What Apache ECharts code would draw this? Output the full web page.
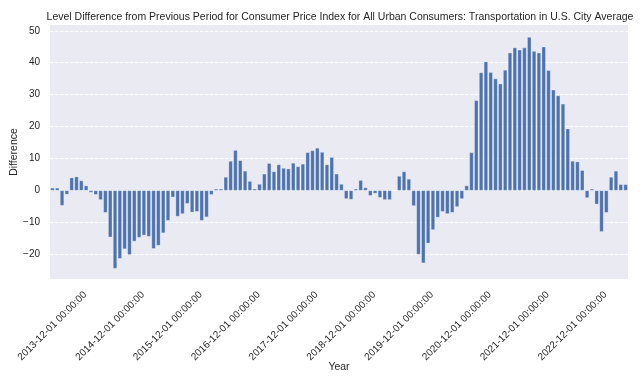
<!DOCTYPE html>
<html>
<head>
<meta charset="utf-8">
<script src="https://cdn.jsdelivr.net/npm/echarts@6/dist/echarts.min.js"></script>
<style>
html,body{margin:0;padding:0;background:#fff;}
#chart{width:640px;height:384px;}
</style>
</head>
<body>
<div id="chart"></div>
<script>
const values = [
  0.8, 0.8, -4.7, -1.2, 4.0, 4.3, 3.1, 1.5, -0.6, -1.3, -2.9, -6.9,
  -14.6, -24.4, -21.3, -18.3, -20.1, -15.9, -14.7, -14.0, -14.4, -18.2, -17.2, -13.3,
  -9.4, -2.1, -8.1, -7.3, -4.1, -6.8, -6.6, -9.4, -8.3, -1.3, 0.5, 0.5,
  4.2, 9.2, 12.6, 9.4, 6.1, 2.9, 0.5, 2.0, 5.2, 8.5, 5.9, 8.1,
  7.0, 6.8, 8.6, 7.5, 8.3, 11.9, 12.5, 13.3, 12.0, 8.1, 10.4, 5.2,
  2.0, -2.6, -2.8, 0.5, 3.2, 0.9, -1.6, -0.9, -2.2, -2.9, -2.9, 0.1,
  4.5, 5.9, 3.6, -4.8, -20.0, -22.7, -16.5, -12.3, -8.4, -6.6, -7.3, -6.9,
  -5.1, -2.6, 1.5, 11.9, 28.2, 36.9, 40.3, 37.0, 35.0, 33.4, 37.7, 43.1,
  44.7, 44.0, 44.7, 48.0, 43.6, 43.1, 45.0, 37.6, 31.5, 29.7, 27.1, 19.3,
  9.2, 9.0, 6.3, -2.3, 0.5, -4.3, -12.9, -6.9, 4.2, 6.1, 1.9, 1.9
];
const startYear = 2013, startMonth = 12;
const categories = [];
for (let i = 0; i < values.length; i++) {
  const t = startMonth - 1 + i;
  const y = startYear + Math.floor(t / 12);
  const m = (t % 12) + 1;
  categories.push(y + '-' + String(m).padStart(2, '0') + '-01 00:00:00');
}
const titleText = 'Level Difference from Previous Period for Consumer Price Index for All Urban Consumers: Transportation in U.S. City Average';
const xName = 'Year';
const yName = 'Difference';

const font = '"Liberation Sans", Arial, sans-serif';
const chart = echarts.init(document.getElementById('chart'), null, {renderer: 'canvas'});
chart.setOption({
  animation: false,
  backgroundColor: '#ffffff',
  title: {
    text: titleText,
    left: 335, top: 7, textAlign: 'center',
    textStyle: {fontFamily: font, fontSize: 10.5, fontWeight: 'normal', color: '#262626'}
  },
  grid: {
    left: 50, right: 12, top: 25, bottom: 105,
    show: true, backgroundColor: '#EAEAF2', borderWidth: 0
  },
  xAxis: {
    type: 'category',
    data: categories,
    name: xName,
    nameLocation: 'middle',
    nameGap: 83,
    nameMoveOverlap: false,
    nameTextStyle: {fontFamily: font, fontSize: 10.5, color: '#262626'},
    axisLine: {show: false},
    axisTick: {show: false},
    splitLine: {show: false},
    axisLabel: {
      interval: 11,
      rotate: 45,
      align: 'center',
      verticalAlign: 'middle',
      margin: 47,
      fontFamily: font, fontSize: 10, color: '#262626'
    }
  },
  yAxis: {
    type: 'value',
    min: -27.7, max: 51.8,
    minInterval: 10, maxInterval: 10,
    name: yName,
    nameLocation: 'middle',
    nameGap: 30,
    nameMoveOverlap: false,
    nameTextStyle: {fontFamily: font, fontSize: 10.5, color: '#262626'},
    axisLine: {show: false},
    axisTick: {show: false},
    axisLabel: {
      showMinLabel: false, showMaxLabel: false,
      margin: 10,
      fontFamily: font, fontSize: 10, color: '#262626',
      formatter: v => (Math.abs(v - Math.round(v)) > 1e-6 ? '' : String(v).replace('-', '\u2212'))
    },
    splitLine: {
      show: true, showMinLine: false, showMaxLine: false,
      lineStyle: {color: '#ffffff', width: 1, type: [3.5, 1.5]}
    }
  },
  series: [{
    type: 'bar',
    data: values,
    barWidth: '80%',
    itemStyle: {color: '#4C72B0', borderColor: '#ffffff', borderWidth: 0.3}
  }]
});
</script>
</body>
</html>
